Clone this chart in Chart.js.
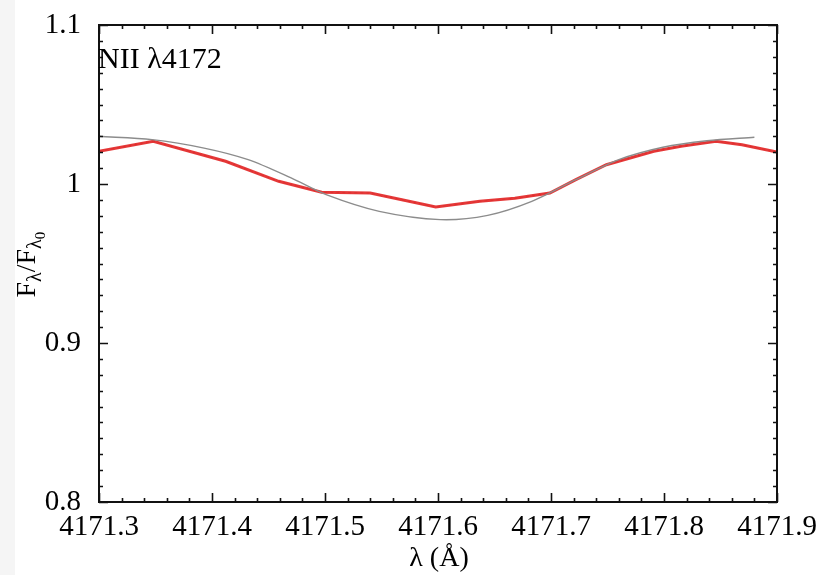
<!DOCTYPE html>
<html>
<head>
<meta charset="utf-8">
<script src="https://cdn.jsdelivr.net/npm/chart.js@4/dist/chart.umd.min.js"></script>
<style>
  html, body { margin: 0; padding: 0; background: #fff; }
  #wrap { width: 825px; height: 575px; position: relative; }
</style>
</head>
<body>
<div id="wrap"><canvas id="specChart" width="825" height="575"></canvas></div>
<script>
// observed profile (red)
const obsWave = [4171.3, 4171.348, 4171.412, 4171.459, 4171.497, 4171.54, 4171.567, 4171.598,
  4171.637, 4171.668, 4171.699, 4171.722, 4171.749, 4171.791, 4171.815, 4171.846, 4171.869, 4171.9];
const obsFlux = [1.0206, 1.0269, 1.0143, 1.0017, 0.9948, 0.9943, 0.9902, 0.9855,
  0.9891, 0.991, 0.9943, 1.0027, 1.0121, 1.0206, 1.0237, 1.0269, 1.0247, 1.0201];

// model profile (grey)
const modelWave = [4171.3, 4171.347, 4171.393, 4171.432, 4171.47, 4171.501, 4171.548, 4171.602,
  4171.644, 4171.683, 4171.722, 4171.76, 4171.799, 4171.838, 4171.88];
const modelFlux = [1.03, 1.0279, 1.0226, 1.0153, 1.0038, 0.9933, 0.9828, 0.9776,
  0.9803, 0.9891, 1.0027, 1.0153, 1.0231, 1.0272, 1.0294];

const xTicks = [4171.3, 4171.4, 4171.5, 4171.6, 4171.7, 4171.8, 4171.9];
const yTicks = [0.8, 0.9, 1.0, 1.1];
const xMinorPerMajor = 5;
const yMinorPerMajor = 10;

const lineLabel = 'NII λ4172';
const serif = "'Liberation Serif', 'DejaVu Serif', serif";

function toPoints(xs, ys) {
  return xs.map((x, i) => ({ x, y: ys[i] }));
}

function subdivide(major, n) {
  const out = [];
  for (let i = 0; i < major.length - 1; i++) {
    const step = (major[i + 1] - major[i]) / n;
    for (let k = 1; k < n; k++) out.push(major[i] + k * step);
  }
  return out;
}

const framePlugin = {
  id: 'frame',
  beforeDraw(chart) {
    const ctx = chart.ctx;
    ctx.save();
    ctx.fillStyle = '#f5f5f5';
    ctx.fillRect(0, 0, 15, chart.height);
    ctx.restore();
  },
  afterDraw(chart) {
    const { ctx, chartArea: a, scales } = chart;
    const xs = scales.x;
    const ys = scales.y;
    ctx.save();
    ctx.strokeStyle = '#111';
    ctx.lineWidth = 2;
    ctx.strokeRect(a.left, a.top, a.right - a.left, a.bottom - a.top);

    ctx.lineWidth = 1.6;
    const drawX = (vals, len) => {
      vals.forEach((v) => {
        const px = Math.round(xs.getPixelForValue(v)) + 0.5;
        ctx.beginPath();
        ctx.moveTo(px, a.bottom); ctx.lineTo(px, a.bottom - len);
        ctx.moveTo(px, a.top); ctx.lineTo(px, a.top + len);
        ctx.stroke();
      });
    };
    const drawY = (vals, len) => {
      vals.forEach((v) => {
        const py = Math.round(ys.getPixelForValue(v)) + 0.5;
        ctx.beginPath();
        ctx.moveTo(a.left, py); ctx.lineTo(a.left + len, py);
        ctx.moveTo(a.right, py); ctx.lineTo(a.right - len, py);
        ctx.stroke();
      });
    };
    drawX(xTicks, 9);
    drawX(subdivide(xTicks, xMinorPerMajor), 4);
    drawY(yTicks, 9);
    drawY(subdivide(yTicks, yMinorPerMajor), 4);

    // label inside the panel
    ctx.fillStyle = '#000';
    ctx.font = `30px ${serif}`;
    ctx.textBaseline = 'alphabetic';
    ctx.textAlign = 'left';
    ctx.fillText(lineLabel, a.left - 1, a.top + 43);

    // x title
    ctx.font = `28px ${serif}`;
    ctx.textAlign = 'center';
    ctx.fillText('λ (Å)', (a.left + a.right) / 2 + 1, chart.height - 9);

    // y title, rotated, with subscripts
    ctx.translate(35, (a.top + a.bottom) / 2 + 34);
    ctx.rotate(-Math.PI / 2);
    ctx.textAlign = 'left';
    const parts = [
      ['F', 28, 0], ['λ', 20, 6], ['/F', 28, 0], ['λ', 20, 6], ['0', 15, 10]
    ];
    let cx = 0;
    parts.forEach(([t, size, dy]) => {
      ctx.font = `${size}px ${serif}`;
      ctx.fillText(t, cx, dy);
      cx += ctx.measureText(t).width;
    });
    ctx.restore();
  }
};

new Chart(document.getElementById('specChart'), {
  type: 'line',
  data: {
    datasets: [
      {
        label: 'model',
        data: toPoints(modelWave, modelFlux),
        borderColor: '#8c8c8c',
        borderWidth: 1.4,
        pointRadius: 0,
        tension: 0.3,
        fill: false
      },
      {
        label: 'observed',
        data: toPoints(obsWave, obsFlux),
        borderColor: 'rgba(228, 45, 45, 0.95)',
        borderWidth: 3,
        pointRadius: 0,
        tension: 0,
        fill: false
      },
      {
        label: 'observed-dash',
        data: toPoints(obsWave, obsFlux),
        borderColor: 'rgba(90, 10, 10, 0.8)',
        borderWidth: 1,
        borderDash: [3, 3],
        pointRadius: 0,
        tension: 0,
        fill: false
      }
    ]
  },
  options: {
    responsive: false,
    animation: false,
    layout: { padding: { left: 0, top: 25, right: 48, bottom: 0 } },
    plugins: { legend: { display: false }, tooltip: { enabled: false } },
    scales: {
      x: {
        type: 'linear',
        min: xTicks[0],
        max: xTicks[xTicks.length - 1],
        grid: { display: false, drawTicks: false },
        border: { display: false },
        afterFit(scale) {
          scale.height = 73;
          scale.paddingLeft = 0;
          scale.paddingRight = 0;
        },
        afterBuildTicks(scale) { scale.ticks = xTicks.map((v) => ({ value: v })); },
        ticks: {
          padding: 8,
          color: '#000',
          font: { family: serif, size: 29 },
          maxRotation: 0,
          callback: (v) => Number(v).toFixed(1)
        }
      },
      y: {
        min: yTicks[0],
        max: yTicks[yTicks.length - 1],
        grid: { display: false, drawTicks: false },
        border: { display: false },
        afterFit(scale) {
          scale.width = 99;
          scale.paddingTop = 0;
          scale.paddingBottom = 0;
        },
        afterBuildTicks(scale) { scale.ticks = yTicks.map((v) => ({ value: v })); },
        ticks: {
          padding: 18,
          color: '#000',
          font: { family: serif, size: 29 },
          callback: (v) => String(Number(v.toFixed(1)))
        }
      }
    }
  },
  plugins: [framePlugin]
});
</script>
</body>
</html>
